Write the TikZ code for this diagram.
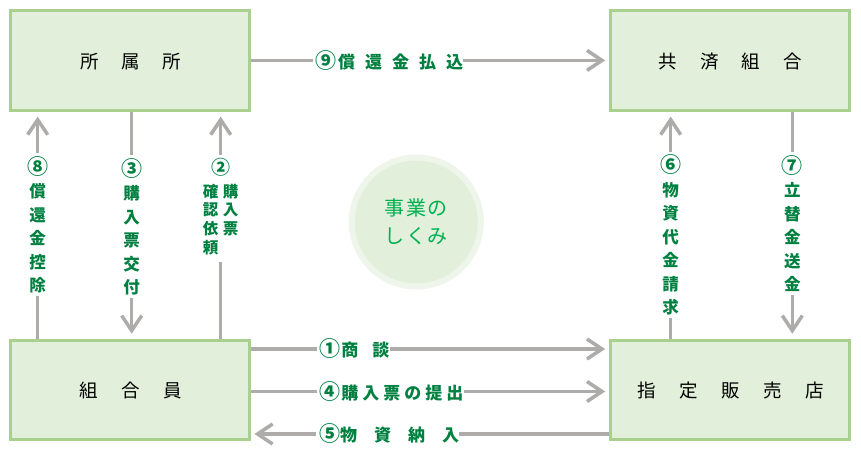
\documentclass[tikz,border=0pt]{standalone}
\usepackage{fontspec}
\newfontfamily\jp{Noto Sans CJK JP}
\usetikzlibrary{arrows.meta,calc}
\definecolor{boxfill}{HTML}{E2EFDA}
\definecolor{boxline}{HTML}{A9D08E}
\definecolor{arrgray}{HTML}{AEABAB}
\definecolor{labgreen}{HTML}{008040}
\definecolor{circgreen}{HTML}{00B050}
\definecolor{ringpale}{HTML}{EEF5EA}
\newcommand\cdig[1]{{\fontsize{21}{23.5}\selectfont #1}}
\newcommand\cdigs[1]{{\fontsize{19}{18.5}\selectfont #1}}
\begin{document}
\begin{tikzpicture}[x=1pt,y=-1pt,
  box/.style={draw=boxline, fill=boxfill, line width=3pt, minimum width=239.3pt,
    minimum height=99.3pt, inner sep=0pt, text depth=-3pt,
    font=\jp\fontsize{18.5}{20}\selectfont},
  conn/.style={draw=arrgray, line width=3.5pt},
  arr/.style={conn, -{Straight Barb[length=15pt,width=20pt]}},
  hlab/.style={inner sep=0pt, anchor=west, text=labgreen,
    font=\jp\bfseries\fontsize{17}{20}\selectfont},
  vlab/.style={inner xsep=0pt, inner ysep=3pt, anchor=north, align=center,
    text=labgreen, font=\jp\bfseries\fontsize{16.5}{23.5}\selectfont},
]
\useasboundingbox (0,0) rectangle (861,456);

% boxes
\node[box] (shozoku) at (130.3,60.4) {所\hspace{22.5pt}属\hspace{22.5pt}所};
\node[box] (kyosai) at (730.3,60.4) {共\hspace{23pt}済\hspace{23pt}組\hspace{23pt}合};
\node[box] (kumiai) at (130.3,389.9) {組\hspace{23.5pt}合\hspace{23.5pt}員};
\node[box] (shitei) at (730.3,389.9) {指\hspace{23.5pt}定\hspace{23.5pt}販\hspace{23.5pt}売\hspace{23.5pt}店};

% centre circle
\node[circle, fill=boxfill, draw=ringpale, line width=6pt, minimum size=129pt,
  inner sep=0pt, align=center, text=circgreen,
  font=\jp\fontsize{20}{28}\selectfont] (shikumi) at (416.3,222)
  {事\hspace{1.5pt}業\hspace{1.5pt}の\\し\hspace{1.5pt}く\hspace{1.5pt}み};

% helper coordinates for horizontal rows
\coordinate (r1) at (0,349);
\coordinate (r4) at (0,391.5);
\coordinate (r5) at (0,434);

% horizontal labels
\node[hlab] (l9) at (313.3,60.4)
  {\hspace*{1.5pt}\cdig{⑨}\hspace{2.2pt}償\hspace{10pt}還\hspace{10pt}金\hspace{10pt}払\hspace{10pt}込};
\node[hlab] (l1) at (316.7,349)
  {\hspace*{2.2pt}\cdig{①}\hspace{1.2pt}商\hspace{14pt}談};
\node[hlab] (l4) at (316.7,391.5)
  {\hspace*{2.2pt}\cdig{④}\hspace{1.2pt}購\hspace{4pt}入\hspace{4pt}票\hspace{4pt}の\hspace{4pt}提\hspace{4pt}出};
\node[hlab] (l5) at (315.5,434)
  {\hspace*{3.3pt}\cdig{⑤}物\hspace{17pt}資\hspace{17pt}納\hspace{17pt}入};

% horizontal connectors
\draw[conn] (shozoku.east) -- (l9.west);
\draw[arr] (l9.east) -- ($(kyosai.west)+(-4,0)$);
\draw[conn] (kumiai.east |- r1) -- (l1.west);
\draw[arr] (l1.east) -- ($(shitei.west |- r1)+(-4,0)$);
\draw[conn] (kumiai.east |- r4) -- (l4.west);
\draw[arr] (l4.east) -- ($(shitei.west |- r4)+(-4,0)$);
\draw[conn] (shitei.west |- r5) -- (l5.east);
\draw[arr] (l5.west) -- ($(kumiai.east |- r5)+(3,0)$);

% vertical labels
\node[vlab] (l8) at (37.7,153) {\cdig{⑧}\\償\\還\\金\\控\\除};
\node[vlab] (l3) at (131.7,155) {\cdig{③}\\購\\入\\票\\交\\付};
\node[vlab, font=\jp\bfseries\fontsize{15.5}{18.5}\selectfont] (l2) at (220.7,155)
  {\cdigs{②}\\[4.5pt]\begin{tabular}[t]{@{}c@{\hspace{4.5pt}}c@{}}確&購\\認&入\\依&票\\頼&\end{tabular}};
\node[vlab] (l6) at (670.7,151.5) {\cdig{⑥}\\物\\資\\代\\金\\請\\求};
\node[vlab] (l7) at (792.3,152) {\cdig{⑦}\\立\\替\\金\\送\\金};

% vertical connectors
\draw[conn] (kumiai.north -| l8) -- (l8.south);
\draw[arr] (l8.north) -- ($(shozoku.south -| l8)+(0,5)$);
\draw[conn] (shozoku.south -| l3) -- (l3.north);
\draw[arr] (l3.south) -- ($(kumiai.north -| l3)+(0,-5)$);
\draw[conn] (kumiai.north -| l2) -- (l2.south);
\draw[arr] (l2.north) -- ($(shozoku.south -| l2)+(0,5)$);
\draw[conn] (shitei.north -| l6) -- (l6.south);
\draw[arr] (l6.north) -- ($(kyosai.south -| l6)+(0,5)$);
\draw[conn] (kyosai.south -| l7) -- (l7.north);
\draw[arr] (l7.south) -- ($(shitei.north -| l7)+(0,-5)$);
\end{tikzpicture}
\end{document}
